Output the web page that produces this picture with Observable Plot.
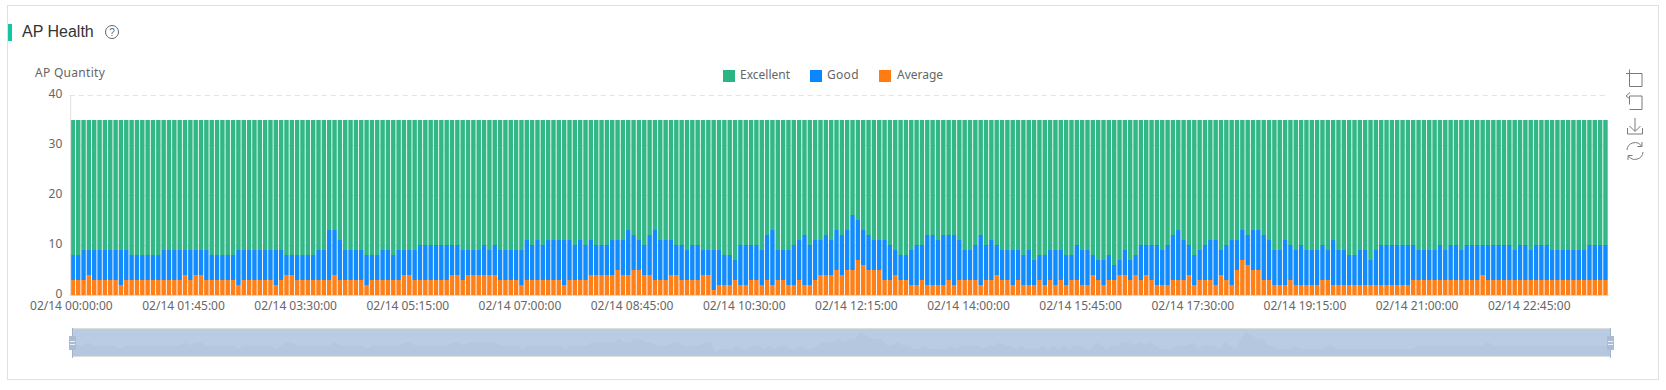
<!DOCTYPE html>
<html><head><meta charset="utf-8">
<script src="https://cdn.jsdelivr.net/npm/d3@7"></script>
<script src="https://cdn.jsdelivr.net/npm/@observablehq/plot@0.6"></script>
<style>
html,body{margin:0;padding:0;background:#fff;width:1666px;height:390px;overflow:hidden}
#card{position:absolute;left:7px;top:5px;width:1650px;height:373px;border:1px solid #e0e0e0}
#accent{position:absolute;left:8px;top:24px;width:4px;height:17px;background:#14c4a2}
#title{position:absolute;left:22px;top:22px;font:16px/20px "Liberation Sans",sans-serif;color:#333}
.t{position:absolute;font:12px/16px "Noto Sans",sans-serif;color:#666;white-space:nowrap}
.sw{position:absolute;top:70px;width:12px;height:12px}
#chart,#slider{position:absolute}
#chart{left:0;top:0;height:390px}
#chart svg{display:block}
#slider{left:72px;top:328px;width:1539px;height:27px;border-top:1px solid #ddd;border-bottom:1px solid #ddd;background:#b9cce4}
.edge{position:absolute;top:328px;width:1px;height:30px;background:#9fb3cc}
.handle{position:absolute;top:336px;width:7px;height:14px;background:#a9bcd4}
.handle i{position:absolute;left:1px;width:5px;height:1px;background:#eef2f7}
#icons,#help{position:absolute}
</style></head><body>
<div id="card"></div><div id="accent"></div><div id="title">AP Health</div>
<svg id="help" style="left:104px;top:24px" width="16" height="16"><circle cx="8" cy="8" r="6.5" fill="none" stroke="#666"/><text x="8" y="11.5" text-anchor="middle" font-size="10" font-family="Liberation Sans" fill="#666">?</text></svg>
<div class="t" style="left:35px;top:65px;letter-spacing:.3px">AP Quantity</div>
<div class="sw" style="left:723px;background:#2bb583"></div><div class="t" style="left:740px;top:67px">Excellent</div>
<div class="sw" style="left:810px;background:#0a87ff"></div><div class="t" style="left:827px;top:67px;letter-spacing:.3px">Good</div>
<div class="sw" style="left:879px;background:#ff7c12"></div><div class="t" style="left:897px;top:67px">Average</div>
<div id="chart"></div>
<div id="slider"></div>
<div class="edge" style="left:72px"></div><div class="edge" style="left:1610px"></div>
<div class="handle" style="left:69px"><i style="top:5px"></i><i style="top:8px"></i></div>
<div class="handle" style="left:1607px"><i style="top:5px"></i><i style="top:8px"></i></div>
<svg id="icons" style="left:1623.5px;top:68px" width="22" height="94" fill="none" stroke="#7a7a7a">
<path d="M2 5.5H18V18.5H5.5V1.5"/>
<path d="M5.5 36.5V28H18V41.5H5.5M2 28L6 24.5M2 28L6 31"/>
<path d="M11 50V63M5.5 58L11 63.5L16.5 58M3.5 60V66H18.5V60"/>
<path d="M3 82A8 8 0 0 1 17.5 78M19 84A8 8 0 0 1 4.5 88M18 74V78.5H13.5M4 92V87.5H8.5"/>
</svg>
<script>
const totalAP = 35;
const seriesNames = ["Excellent","Good","Average"];
const seriesColors = ["#2bb583","#0a87ff","#ff7c12"];
const tickLabels = ["02/14 00:00:00","02/14 01:45:00","02/14 03:30:00","02/14 05:15:00","02/14 07:00:00","02/14 08:45:00","02/14 10:30:00","02/14 12:15:00","02/14 14:00:00","02/14 15:45:00","02/14 17:30:00","02/14 19:15:00","02/14 21:00:00","02/14 22:45:00"];
const average = [
3,3,3,4,3,3,3,3,3,2,3,3,3,3,3,3,3,3,3,3,3,4,3,4,4,3,3,3,3,3,3,2,3,3,3,3,3,3,2,3,4,4,
3,3,3,3,3,3,3,4,3,3,3,3,3,2,3,3,3,3,3,3,4,4,3,3,3,3,3,3,3,4,4,3,4,4,4,4,4,4,3,3,3,3,
2,3,3,3,3,3,3,3,2,3,3,3,3,4,4,4,4,4,5,4,4,5,5,4,4,3,3,3,4,4,3,3,3,3,4,4,1,2,2,2,3,2,
2,3,3,2,3,2,3,3,2,2,3,2,2,3,4,4,4,5,4,5,5,7,6,5,5,5,3,3,4,3,3,2,2,3,2,2,2,2,3,2,3,3,
3,3,2,3,3,4,3,3,2,3,2,2,2,3,2,3,2,3,2,3,3,2,2,4,3,2,3,3,4,4,3,4,3,4,3,2,2,2,3,3,3,4,
2,3,3,3,2,4,3,2,5,7,6,5,5,3,3,2,2,2,3,2,2,2,2,2,3,3,2,2,2,2,2,2,2,2,2,2,2,2,2,2,2,3,
3,3,3,3,3,3,3,3,3,3,3,3,4,3,3,3,3,3,3,3,3,3,3,3,3,3,3,3,3,3,3,3,3,3,3,3,3];
const goodTop = [
8,8,9,9,9,9,9,9,9,9,9,8,8,8,8,8,8,9,9,9,9,9,9,9,9,9,8,8,8,8,8,9,9,9,9,9,9,9,9,9,8,8,
8,8,8,8,9,9,13,13,11,9,9,9,9,8,8,8,9,9,8,9,9,9,9,10,10,10,10,10,10,10,10,9,9,9,9,10,9,10,9,9,9,9,
9,11,10,11,10,11,11,11,11,11,10,11,10,11,10,10,10,11,11,11,13,12,11,10,12,13,11,11,11,10,10,9,10,10,9,9,9,9,8,8,7,10,
10,10,10,9,12,13,9,9,9,10,11,12,10,11,11,12,11,13,12,13,16,15,13,12,11,11,11,10,9,8,8,9,10,10,12,12,11,12,12,12,11,9,9,10,
12,10,11,10,9,9,9,9,8,9,7,8,8,9,9,9,8,8,10,9,9,8,7,7,8,6,7,9,7,8,10,10,10,10,9,10,12,13,11,10,8,9,10,11,11,
9,10,11,11,13,12,13,13,12,11,9,9,11,10,9,10,9,9,9,10,9,11,9,9,8,8,9,9,7,9,10,10,10,10,10,10,10,9,9,9,9,10,9,10,10,9,10,10,10,10,10,10,10,10,10,9,10,10,9,10,10,10,9,9,9,9,9,9,9,10,10,10,10];

const times = d3.range(288).map(i => d3.utcFormat("%m/%d %H:%M:%S")(new Date(Date.UTC(2024,1,14,0,5*i))));
const rows = [];
times.forEach((t,i) => {
  rows.push({t, s:"Average", v:average[i]});
  rows.push({t, s:"Good", v:goodTop[i]-average[i]});
  rows.push({t, s:"Excellent", v:totalAP-goodTop[i]});
});
const chart = Plot.plot({
  width:1666, height:390,
  marginTop:95, marginBottom:95, marginLeft:69.75, marginRight:57.4,
  style:{fontFamily:'"Noto Sans",sans-serif', fontSize:"12px", background:"transparent"},
  x:{type:"band", domain:times, padding:0.17, round:false, align:0.5},
  y:{domain:[0,40], ticks:[0,10,20,30,40]},
  color:{domain:seriesNames, range:seriesColors},
  marks:[
    Plot.ruleY([10,20,30,40],{stroke:"#e3e3e3", strokeDasharray:"5,4"}),
    Plot.barY(rows,{x:"t", y:"v", fill:"s", fillOpacity:0.97}),
    Plot.ruleY([0],{stroke:"#d8d8d8"}),
    Plot.ruleX([times[0]],{stroke:"#e0e0e0", dx:-2.7, y1:0, y2:40}),
    Plot.axisY({ticks:[0,10,20,30,40], tickSize:0, tickPadding:8, label:null, fill:"#666", fontSize:12, dy:-1.5}),
    Plot.axisX({ticks:tickLabels, tickSize:0, tickPadding:6, label:null, fill:"#666", fontSize:12, dx:-2})
  ]
});
document.getElementById("chart").append(chart);
const slider = Plot.plot({
  width:1539, height:27, margin:0, axis:null,
  x:{domain:[0,287]}, y:{domain:[0,7.8]},
  style:{background:"transparent", display:"block"},
  marks:[Plot.areaY(average.map((v,i)=>({i,v})),{x:"i", y:"v", fill:"#b4c7de"})]
});
document.getElementById("slider").append(slider);
</script>
</body></html>
